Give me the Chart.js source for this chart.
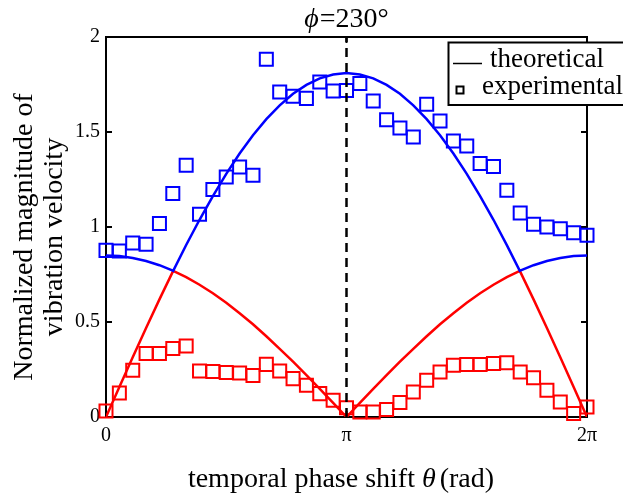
<!DOCTYPE html>
<html><head><meta charset="utf-8">
<script src="https://cdn.jsdelivr.net/npm/chart.js@4.4.0/dist/chart.umd.min.js"></script>
<style>html,body{margin:0;padding:0;background:#fff;}#wrap{width:623px;height:498px;position:relative;}</style>
</head><body><div id="wrap"><canvas id="c" width="623" height="498" style="width:623px;height:498px"></canvas></div>
<script>
// ---- data ----
const expThetaDeg = [0,10,20,30,40,50,60,70,80,90,100,110,120,130,140,150,160,170,180,190,200,210,220,230,240,250,260,270,280,290,300,310,320,330,340,350,360];
const blueExp = [0.877,0.874,0.916,0.909,1.018,1.176,1.325,1.067,1.197,1.263,1.316,1.272,1.883,1.711,1.688,1.677,1.763,1.716,1.719,1.755,1.663,1.565,1.521,1.474,1.646,1.558,1.453,1.426,1.334,1.319,1.193,1.074,1.014,1.000,0.991,0.970,0.956];
const redExp = [0.032,0.126,0.246,0.334,0.334,0.360,0.374,0.242,0.240,0.234,0.232,0.219,0.277,0.242,0.202,0.167,0.123,0.088,0.049,0.026,0.026,0.039,0.076,0.132,0.193,0.237,0.272,0.276,0.276,0.281,0.286,0.237,0.207,0.141,0.079,0.018,0.053];
const theoryThetaDeg = [0,10,20,30,40,50,50.3,60,70,80,90,100,110,120,130,140,150,160,170,180,190,200,210,220,230,240,250,260,270,280,290,300,309.7,310,320,330,340,350,360];
const upperTheory = [0.850,0.847,0.837,0.821,0.799,0.770,0.769,0.905,1.038,1.163,1.280,1.387,1.483,1.568,1.640,1.701,1.748,1.782,1.803,1.810,1.803,1.782,1.748,1.701,1.640,1.568,1.483,1.387,1.280,1.163,1.038,0.905,0.769,0.770,0.799,0.821,0.837,0.847,0.850];
const lowerTheory = [0,0.158,0.314,0.468,0.619,0.765,0.769,0.736,0.696,0.651,0.601,0.546,0.488,0.425,0.359,0.291,0.220,0.148,0.074,0,0.074,0.148,0.220,0.291,0.359,0.425,0.488,0.546,0.601,0.651,0.696,0.736,0.769,0.765,0.619,0.468,0.314,0.158,0];
const phiDeg = 180; // dashed marker position (theta = pi)
const xTickValues = [0, Math.PI, 2*Math.PI];
const xTickLabels = ['0', 'π', '2π'];
const yTickValues = [0, 0.5, 1, 1.5, 2];
const yTickLabels = ['0', '0.5', '1', '1.5', '2'];
const titleParts = ['ϕ', '=230°'];
const xLabelParts = ['temporal phase shift ', 'θ', '(rad)'];
const yLabelLines = ['Normalized magnitude of', 'vibration velocity'];
const legendLabels = ['theoretical', 'experimental'];

// ---- build ----
const rad = d => d * Math.PI / 180;
const pts = (xs, ys) => xs.map((d, i) => ({x: rad(d), y: ys[i]}));
const SERIF = "'Liberation Serif', 'Times New Roman', serif";
const BLUE = '#0000ff', RED = '#ff0000';

const deco = {
  id: 'deco',
  beforeDatasetsDraw(chart) {
    const {ctx, chartArea: a, scales: {x, y}} = chart;
    ctx.save();
    ctx.strokeStyle = '#000';
    ctx.lineWidth = 2;
    ctx.strokeRect(a.left, a.top, a.right - a.left, a.bottom - a.top);
    ctx.beginPath();
    yTickValues.forEach(v => {
      const py = y.getPixelForValue(v);
      ctx.moveTo(a.left, py); ctx.lineTo(a.left + 6, py);
      ctx.moveTo(a.right, py); ctx.lineTo(a.right - 6, py);
    });
    xTickValues.forEach(v => {
      const px = x.getPixelForValue(v);
      ctx.moveTo(px, a.bottom); ctx.lineTo(px, a.bottom - 6);
      ctx.moveTo(px, a.top); ctx.lineTo(px, a.top + 6);
    });
    ctx.stroke();
    ctx.restore();
  },
  afterDraw(chart) {
    const {ctx, chartArea: a, scales: {x}} = chart;
    ctx.save();
    ctx.fillStyle = '#000';
    ctx.textBaseline = 'alphabetic';
    const runs = (parts, italicIdx, size, cx, base, gaps) => {
      const fonts = parts.map((p, i) => (italicIdx.includes(i) ? 'italic ' : '') + size + 'px ' + SERIF);
      const ws = parts.map((p, i) => { ctx.font = fonts[i]; return ctx.measureText(p).width + (gaps[i] || 0); });
      let xx = cx - ws.reduce((s, w) => s + w, 0) / 2;
      parts.forEach((p, i) => { ctx.font = fonts[i]; ctx.textAlign = 'left'; ctx.fillText(p, xx, base); xx += ws[i]; });
    };
    runs(titleParts, [0], 28, x.getPixelForValue(rad(phiDeg)), 27, [1]);
    runs(xLabelParts, [1], 28, 341, 487, [0, 4]);
    ctx.save();
    ctx.translate(0, 237);
    ctx.rotate(-Math.PI / 2);
    ctx.font = '28px ' + SERIF;
    ctx.textAlign = 'center';
    ctx.fillText(yLabelLines[0], 0, 32);
    ctx.fillText(yLabelLines[1], 0, 62);
    ctx.restore();
    const L = 448.5, T = 42.5, R = 640, B = 105;
    ctx.fillStyle = '#fff';
    ctx.fillRect(L, T, R - L, B - T);
    ctx.strokeStyle = '#000';
    ctx.lineWidth = 2;
    ctx.strokeRect(L, T, R - L, B - T);
    ctx.lineWidth = 1.5;
    ctx.beginPath(); ctx.moveTo(453, 63.5); ctx.lineTo(482, 63.5); ctx.stroke();
    ctx.lineWidth = 2;
    ctx.strokeRect(456.5, 86.5, 7, 7);
    ctx.fillStyle = '#000';
    ctx.font = '27px ' + SERIF;
    ctx.textAlign = 'left';
    ctx.fillText(legendLabels[0], 490, 67);
    ctx.fillText(legendLabels[1], 482, 94);
    ctx.restore();
  }
};

new Chart(document.getElementById('c'), {
  type: 'scatter',
  data: {
    datasets: [
      {label: 'phi', data: [{x: rad(phiDeg), y: 0}, {x: rad(phiDeg), y: 2}], showLine: true, borderColor: '#000', borderWidth: 2.5, borderDash: [9, 6], pointRadius: 0, order: 0},
      {label: 'exp upper', data: pts(expThetaDeg, blueExp), pointStyle: 'rect', pointRadius: 9.2, pointBorderWidth: 2, borderColor: BLUE, backgroundColor: 'rgba(0,0,0,0)', clip: false, order: 1},
      {label: 'exp lower', data: pts(expThetaDeg, redExp), pointStyle: 'rect', pointRadius: 9.2, pointBorderWidth: 2, borderColor: RED, backgroundColor: 'rgba(0,0,0,0)', clip: false, order: 1},
      {label: 'theory upper', data: pts(theoryThetaDeg, upperTheory), showLine: true, borderColor: BLUE, borderWidth: 2.5, pointRadius: 0, tension: 0, order: 2},
      {label: 'theory lower', data: pts(theoryThetaDeg, lowerTheory), showLine: true, borderColor: RED, borderWidth: 2.5, pointRadius: 0, tension: 0, order: 2}
    ]
  },
  options: {
    responsive: false,
    animation: false,
    devicePixelRatio: 1,
    layout: {padding: {left: 0, top: 37, right: 36, bottom: 0}},
    plugins: {legend: {display: false}, title: {display: false}, tooltip: {enabled: false}},
    scales: {
      x: {
        type: 'linear', min: 0, max: 2 * Math.PI,
        afterBuildTicks: s => { s.ticks = xTickValues.map(v => ({value: v})); },
        afterFit: s => { s.height = 81; },
        grid: {display: false, drawTicks: false}, border: {display: false},
        ticks: {callback: (v, i) => xTickLabels[i], font: {family: SERIF, size: 20}, color: '#000', padding: 7, maxRotation: 0, autoSkip: false}
      },
      y: {
        min: 0, max: 2,
        afterBuildTicks: s => { s.ticks = yTickValues.map(v => ({value: v})); },
        afterFit: s => { s.width = 106; },
        grid: {display: false, drawTicks: false}, border: {display: false},
        ticks: {callback: (v, i) => yTickLabels[i], font: {family: SERIF, size: 20}, color: '#000', padding: 6}
      }
    }
  },
  plugins: [deco]
});
</script>
</body></html>
